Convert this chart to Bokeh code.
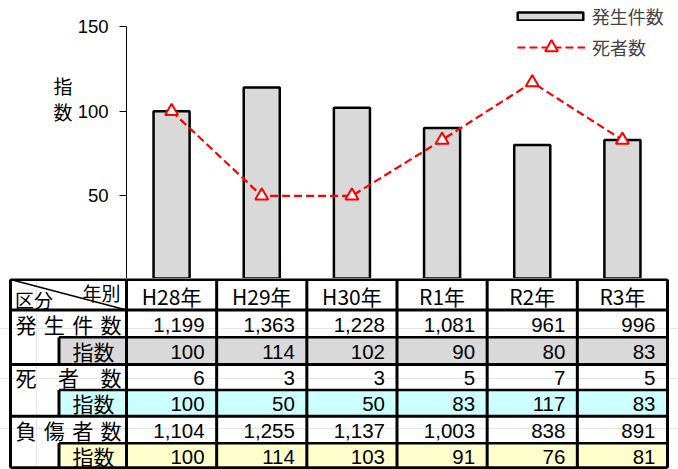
from bokeh.plotting import figure
from bokeh.models import Range1d, FactorRange, FixedTicker, Legend, LegendItem, LinearAxis
from bokeh.core.properties import value
from bokeh.embed import file_html
from bokeh.resources import INLINE

# ---------------- data ----------------
years = ["H28年", "H29年", "H30年", "R1年", "R2年", "R3年"]
accidents = [1199, 1363, 1228, 1081, 961, 996]
accident_index = [100, 114, 102, 90, 80, 83]
deaths = [6, 3, 3, 5, 7, 5]
death_index = [100, 50, 50, 83, 117, 83]
injured = [1104, 1255, 1137, 1003, 838, 891]
injured_index = [100, 114, 103, 91, 76, 81]
y_ticks = [50, 100, 150]
row_labels = ["発生件数", "死者数", "負傷者数"]
index_label = "指数"
legend_labels = ["発生件数", "死者数"]
axis_title = {115: "指", 100: "数"}
corner_top = "年別"
corner_bottom = "区分"

# ---------------- style ----------------
JP = "Noto Sans CJK JP"
LAT = "Liberation Sans"
GREY = "#d9d9d9"
CYAN = "#ccffff"
YELLOW = "#ffffcc"
RED = "#ff0000"

W = 678
CH = 278             # chart canvas height
TH = 469 - CH        # table canvas height
PX = 1.6933          # pixels per index unit
FL = 126             # frame left
FR = 11              # right border
COLW = (W - FL - FR) / 6.0

# ---------------- chart ----------------
y0 = 2 / PX
chart = figure(width=W, height=CH, x_range=FactorRange(*years),
               y_range=Range1d(y0, y0 + CH / PX),
               output_backend="svg", toolbar_location=None,
               x_axis_location=None, min_border_left=FL, min_border_right=FR,
               min_border_top=0, min_border_bottom=0)
chart.outline_line_color = None
chart.grid.visible = False

bars = chart.vbar(x=years, top=accident_index, width=0.4, fill_color=GREY,
                  line_color="black", line_width=2.5)
dline = chart.line(x=years, y=death_index, line_color=RED, line_width=2.2,
                   line_dash="8 4")
dpts = chart.scatter(x=years, y=death_index, marker="triangle", size=13,
                     fill_color="white", line_color=RED, line_width=2)

ya = chart.yaxis[0]
ya.ticker = FixedTicker(ticks=y_ticks)
ya.bounds = (0, 150)
ya.axis_line_width = 1
ya.major_tick_out = 7
ya.major_tick_in = 0
ya.minor_tick_out = 0
ya.minor_tick_in = 0
ya.major_label_standoff = 11
ya.major_label_text_font = LAT
ya.major_label_text_font_size = "18.5px"
ya.major_label_text_color = "black"

# vertical axis title, written as labels of an extra bare axis
title_axis = LinearAxis(ticker=FixedTicker(ticks=list(axis_title.keys())),
                        major_label_overrides=axis_title,
                        axis_line_color=None, major_tick_line_color=None,
                        minor_tick_line_color=None, major_tick_out=0,
                        major_tick_in=0, major_label_standoff=2,
                        major_label_text_font=JP,
                        major_label_text_font_size="19px",
                        major_label_text_color="black")
chart.add_layout(title_axis, "left")

leg1 = Legend(items=[LegendItem(label=legend_labels[0], renderers=[bars])],
              location=(382.8, 248.8), glyph_width=82, glyph_height=10,
              label_standoff=1, padding=0, margin=0, spacing=0,
              border_line_color=None, background_fill_alpha=0,
              label_text_font=JP, label_text_font_size="18px")
leg2 = Legend(items=[LegendItem(label=legend_labels[1], renderers=[dline, dpts])],
              location=(391, 215), glyph_width=68, glyph_height=32,
              label_standoff=7, padding=0, margin=0, spacing=0,
              border_line_color=None, background_fill_alpha=0,
              label_text_font=JP, label_text_font_size="18px")
chart.add_layout(leg1)
chart.add_layout(leg2)

# ---------------- table ----------------
table = figure(width=W, height=TH, x_range=Range1d(-FL / COLW, 6 + FR / COLW),
               y_range=Range1d(TH, 0), output_backend="svg",
               toolbar_location=None, x_axis_location=None, y_axis_location=None,
               min_border=0)
table.outline_line_color = None


def cx(page_x):
    return (page_x - FL) / COLW


LEFT = cx(10)
SUB = cx(58.5)
b = [1.0, 31.5, 58.8, 86.0, 111.5, 137.8, 164.7, 189.3]

idx_rows = [1, 3, 5]
idx_colors = [GREY, CYAN, YELLOW]
table.quad(left=[SUB] * 3, right=[6] * 3,
           top=[b[r + 1] for r in idx_rows], bottom=[b[r + 2] for r in idx_rows],
           fill_color=idx_colors, line_color=None)

h_full = [b[0], b[1], b[3], b[5], b[7]]
h_part = [b[2], b[4], b[6]]
table.segment(x0=[LEFT] * len(h_full), x1=[6] * len(h_full), y0=h_full, y1=h_full,
              line_color="black", line_width=3)
table.segment(x0=[SUB] * len(h_part), x1=[6] * len(h_part), y0=h_part, y1=h_part,
              line_color="black", line_width=2.5)
vx = [LEFT] + list(range(7))
table.segment(x0=vx, x1=vx, y0=[b[0]] * len(vx), y1=[b[7]] * len(vx),
              line_color="black", line_width=3)
table.segment(x0=[SUB] * 3, x1=[SUB] * 3, y0=[b[r + 1] for r in idx_rows],
              y1=[b[r + 2] for r in idx_rows], line_color="black", line_width=3)
table.segment(x0=[LEFT], y0=[b[0]], x1=[0], y1=[b[1]], line_color="black",
              line_width=1.5)

# header texts
table.text(x=[k + 0.5 for k in range(6)], y=[(b[0] + b[1]) / 2 + 1] * 6, text=years,
           text_align="center", text_baseline="middle", text_font=value(JP),
           text_font_size="21px", text_color="black")
table.text(x=[cx(101), cx(33.5)], y=[14.0, 21.0], text=[corner_top, corner_bottom],
           text_align="center", text_baseline="middle", text_font=value(JP),
           text_font_size="19px", text_color="black")

# numbers
rows = [accidents, accident_index, deaths, death_index, injured, injured_index]
nx, ny, nt = [], [], []
for r, vals in enumerate(rows):
    for k, v in enumerate(vals):
        nx.append(k + 1 - 12 / COLW)
        ny.append((b[r + 1] + b[r + 2]) / 2 + 1)
        nt.append(f"{v:,}")
table.text(x=nx, y=ny, text=nt, text_align="right", text_baseline="middle",
           text_font=value(LAT), text_font_size="20.5px", text_color="black")

# row label characters (distributed across the cell)
lx, ly, lt = [], [], []
for name, r in zip(row_labels, [0, 2, 4]):
    n = len(name)
    first, last = 25.5, 110.5
    for j, chr_ in enumerate(name):
        lx.append(cx(first + (last - first) * j / (n - 1)))
        ly.append((b[r + 1] + b[r + 2]) / 2)
        lt.append(chr_)
for r in idx_rows:
    lx.append(cx(93))
    ly.append((b[r + 1] + b[r + 2]) / 2)
    lt.append(index_label)
table.text(x=lx, y=ly, text=lt, text_align="center", text_baseline="middle",
           text_font=value(JP), text_font_size="21px", text_color="black")

open("out.html", "w").write(file_html([chart, table], INLINE))
